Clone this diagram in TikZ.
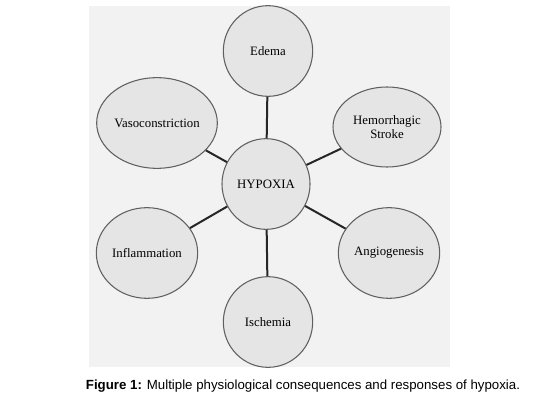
\documentclass[tikz,border=0pt]{standalone}
\usepackage{fontspec}
\setmainfont{Liberation Serif}
\newfontfamily\capfont{Liberation Sans}
\usetikzlibrary{shapes.geometric}
\definecolor{panelgray}{HTML}{F2F2F2}
\definecolor{bubblegray}{HTML}{E5E5E5}
\tikzset{
  bubble/.style={ellipse,draw=gray!75!black,fill=bubblegray,line width=0.8pt,
    inner sep=0pt,align=center,font=\fontsize{9.6}{11}\selectfont},
  link/.style={line width=1.5pt,black!85}
}
\begin{document}
\begin{tikzpicture}[x=0.75pt,y=-0.75pt]
  \useasboundingbox (0,0) rectangle (541,403);
  \fill[panelgray] (89,6) rectangle (450,367);
  \begin{scope}
    \clip (89,6) rectangle (450,367);
    \node[bubble,minimum width=66pt,minimum height=68pt] (hyp) at (266,184) {HYPOXIA};
    \node[bubble,minimum width=67pt,minimum height=68pt] (edema) at (268,51) {Edema};
    \node[bubble,minimum width=90pt,minimum height=68pt] (vaso) at (157,123) {Vasoconstriction};
    \node[bubble,minimum width=81pt,minimum height=60pt] (stroke) at (387,127) {Hemorrhagic\\Stroke};
    \node[bubble,minimum width=76pt,minimum height=68pt] (infl) at (147,253) {Inflammation};
    \node[bubble,minimum width=76pt,minimum height=68pt] (angio) at (389,253) {Angiogenesis};
    \node[bubble,minimum width=67pt,minimum height=68pt] (isch) at (268,322) {Ischemia};
  \end{scope}
  \draw[link] (hyp) -- (edema);
  \draw[link] (hyp) -- (vaso);
  \draw[link] (hyp) -- (stroke);
  \draw[link] (hyp) -- (infl);
  \draw[link] (hyp) -- (angio);
  \draw[link] (hyp) -- (isch);
  \node[font=\capfont\fontsize{9.95}{12}\selectfont] (cap) at (303,386)
    {\textbf{Figure 1:} Multiple physiological consequences and responses of hypoxia.};
\end{tikzpicture}
\end{document}
